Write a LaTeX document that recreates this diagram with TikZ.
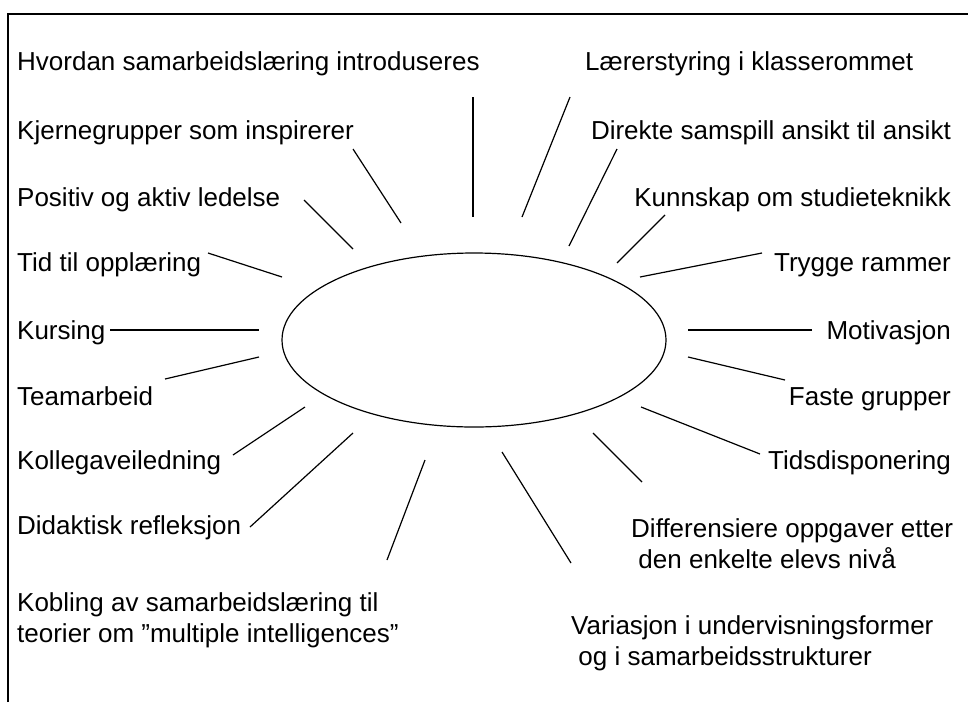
\documentclass[tikz,border=0pt]{standalone}
\usepackage{fontspec}
\setmainfont{Liberation Sans}
\usepackage{tikz}
\usetikzlibrary{shapes.geometric}
\newcommand{\lblfont}{\fontsize{26}{31}\selectfont}

\begin{document}
\begin{tikzpicture}[
      x=1pt, y=-1pt,
      every node/.style={font=\lblfont, inner sep=0pt},
      lleft/.style={anchor=base west},
      lright/.style={anchor=base east},
      lblock/.style={anchor=north west, align=left},
      spoke/.style={line width=1.2pt},
    ]
    \useasboundingbox (0,0) rectangle (968,702);

    % Frame (top and left edge only)
    \draw[line width=2.2pt] (8,702) -- (8,14) -- (968,14);

    % Central ellipse
    \node[draw, ellipse, line width=1.2pt, minimum width=384pt,
          minimum height=174pt] (hub) at (474,340) {};

    % Labels on the left
    \node[lleft] (hvordan) at (17,70)  {Hvordan samarbeidslæring introduseres};
    \node[lleft] (kjerne)  at (17,139) {Kjernegrupper som inspirerer};
    \node[lleft] (positiv) at (17,206) {Positiv og aktiv ledelse};
    \node[lleft] (tid)     at (17,271) {Tid til opplæring};
    \node[lleft] (kursing) at (17,339) {Kursing};
    \node[lleft] (team)    at (17,405) {Teamarbeid};
    \node[lleft] (kollega) at (17,469) {Kollegaveiledning};
    \node[lleft] (didakt)  at (17,534) {Didaktisk refleksjon};
    \node[lblock] (kobling) at (17,592)
          {Kobling av samarbeidslæring til\\teorier om ”multiple intelligences”};

    % Labels on the right
    \node[lleft]  (laerer)   at (585,70)  {Lærerstyring i klasserommet};
    \node[lright] (direkte)  at (951,139) {Direkte samspill ansikt til ansikt};
    \node[lright] (kunnskap) at (951,206) {Kunnskap om studieteknikk};
    \node[lright] (trygge)   at (951,271) {Trygge rammer};
    \node[lright] (motiv)    at (951,339) {Motivasjon};
    \node[lright] (faste)    at (951,405) {Faste grupper};
    \node[lright] (tidsdisp) at (951,469) {Tidsdisponering};
    \node[lblock] (diff) at (631,518)
          {Differensiere oppgaver etter\\\hspace*{0.28em}den enkelte elevs nivå};
    \node[lblock] (variasjon) at (571,615)
          {Variasjon i undervisningsformer\\\hspace*{0.28em}og i samarbeidsstrukturer};

    % Rays round the ellipse: outer end / inner end
    \foreach \n/\p/\q in {
        hvordan/{473,97}/{473,217}, kjerne/{353,149}/{401,223},
        positiv/{304,200}/{353,249}, tid/{208,253}/{282,277},
        kursing/{110,330}/{259,330}, team/{165,379}/{259,357},
        kollega/{233,455}/{305,407}, didakt/{250,527}/{353,433},
        kobling/{387,560}/{425,460}, laerer/{570,97}/{522,217},
        direkte/{617,149}/{569,246}, kunnskap/{665,215}/{617,263},
        trygge/{762,253}/{640,277}, motiv/{812,330}/{688,330},
        faste/{785,380}/{688,357}, tidsdisp/{760,454}/{641,407},
        diff/{642,482}/{593,433}, variasjon/{571,563}/{502,452}} {
      \coordinate (\n-out) at (\p);
      \coordinate (\n-in)  at (\q);
      \draw[spoke] (\n-out) -- (\n-in);
    }
  \end{tikzpicture}
\end{document}
